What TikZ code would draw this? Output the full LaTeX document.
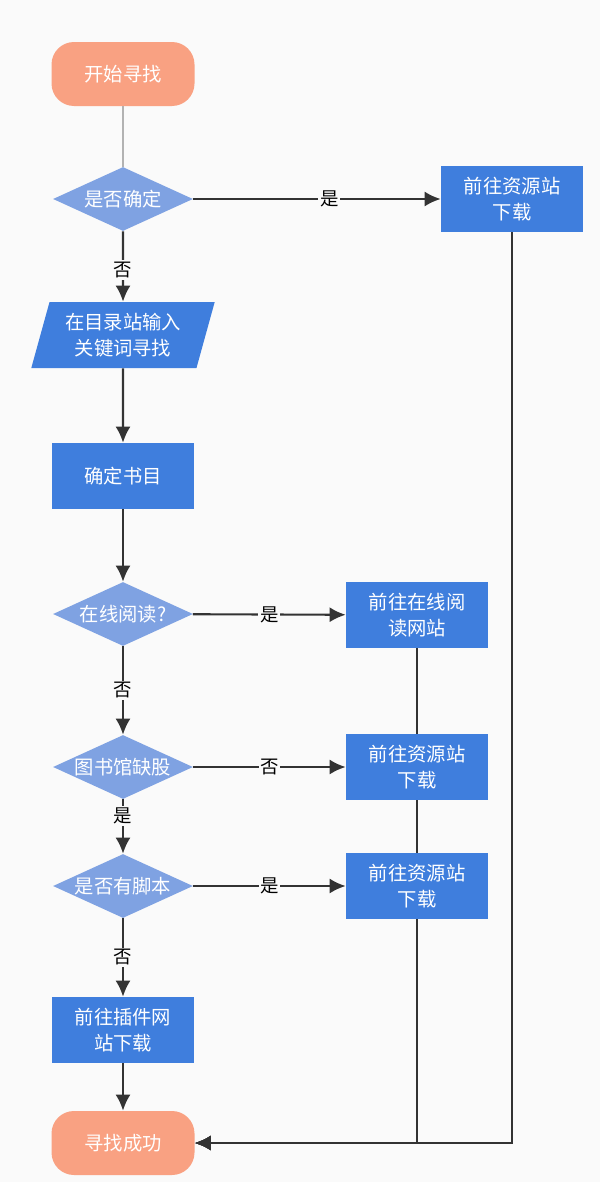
\documentclass[tikz,border=0pt]{standalone}
\usepackage{fontspec}
\newfontfamily\cjk{Noto Sans CJK SC}
\usetikzlibrary{arrows.meta, positioning, shapes.geometric, backgrounds}
\definecolor{termred}{HTML}{F9A182}
\definecolor{askblue}{HTML}{7FA2E2}
\definecolor{boxblue}{HTML}{3F7EDD}
\definecolor{wire}{HTML}{333333}
\definecolor{paper}{HTML}{FAFAFA}
\tikzset{
  term/.style  = {rectangle, rounded corners=0.45cm, fill=termred, text=white,
                  minimum width=2.86cm, minimum height=1.28cm, inner sep=0pt,
                  font=\cjk\fontsize{11}{15}\selectfont},
  ask/.style   = {diamond, aspect=2.2, fill=askblue, text=white,
                  minimum width=2.8cm, minimum height=1.28cm, inner xsep=-3pt, inner ysep=0pt,
                  font=\cjk\fontsize{11}{15}\selectfont},
  proc/.style  = {rectangle, fill=boxblue, text=white, align=center,
                  minimum width=2.84cm, minimum height=1.32cm, inner sep=0pt,
                  font=\cjk\fontsize{11}{15}\selectfont},
  inbox/.style = {trapezium, trapezium left angle=72, trapezium right angle=108,
                  trapezium stretches=true, fill=boxblue, text=white, align=center,
                  minimum width=3.68cm, minimum height=1.32cm, inner sep=0pt,
                  font=\cjk\fontsize{11}{15}\selectfont},
  flow/.style  = {-{Latex[length=3.2mm, width=3mm]}, line width=1.2pt, draw=wire},
  yn/.style    = {fill=paper, text=black, inner sep=1pt, font=\cjk\fontsize{10.5}{12}\selectfont},
}

\begin{document}
\begin{tikzpicture}

\useasboundingbox (0,0) rectangle (12,-23.64);

% main column
\node[term]  (start) at (2.46,-1.48)  {开始寻找};
\node[ask]   (q1)    at (2.46,-3.98)  {是否确定};
\node[inbox] (input) at (2.46,-6.70)  {在目录站输入\\关键词寻找};
\node[proc]  (pick)  at (2.46,-9.52)  {确定书目};
\node[ask]   (q2)    at (2.46,-12.28) {在线阅读?};
\node[ask]   (q3)    at (2.46,-15.34) {图书馆缺股};
\node[ask]   (q4)    at (2.46,-17.72) {是否有脚本};
\node[proc]  (plug)  at (2.46,-20.60) {前往插件网\\站下载};
\node[term]  (done)  at (2.46,-22.86) {寻找成功};

% right column
\node[proc] (r1)  at (10.24,-3.98)  {前往资源站\\下载};
\node[proc] (rd1) at (8.34,-12.30)  {前往在线阅\\读网站};
\node[proc] (rd2) at (8.34,-15.34)  {前往资源站\\下载};
\node[proc] (rd3) at (8.34,-17.72)  {前往资源站\\下载};

\draw[line width=1.1pt, draw=black!30] (start) -- (q1);

\draw[flow] (q1) -- node[yn, pos=0.55] {否} (input);
\draw[flow] (q2) -- node[yn] {否} (q3);
\draw[flow] (q3) -- node[yn, pos=0.3] {是} (q4);
\draw[flow] (q4) -- node[yn] {否} (plug);
\foreach \x/\y in {input/pick, pick/q2, plug/done}
  \draw[flow] (\x) -- (\y);

\draw[flow] (q1) -- node[yn, pos=0.55] {是} (r1);
\draw[flow] (q2) -- node[yn] {是} (rd1);
\draw[flow] (q3) -- node[yn] {否} (rd2);
\draw[flow] (q4) -- node[yn] {是} (rd3);

% return lines behind the boxes
\begin{pgfonlayer}{background}
\fill[paper] (0,0) rectangle (12,-23.64);
\foreach \x in {r1, rd1, rd2, rd3}
  \draw[flow] (\x.south) |- (done.east);
\end{pgfonlayer}

\end{tikzpicture}
\end{document}
